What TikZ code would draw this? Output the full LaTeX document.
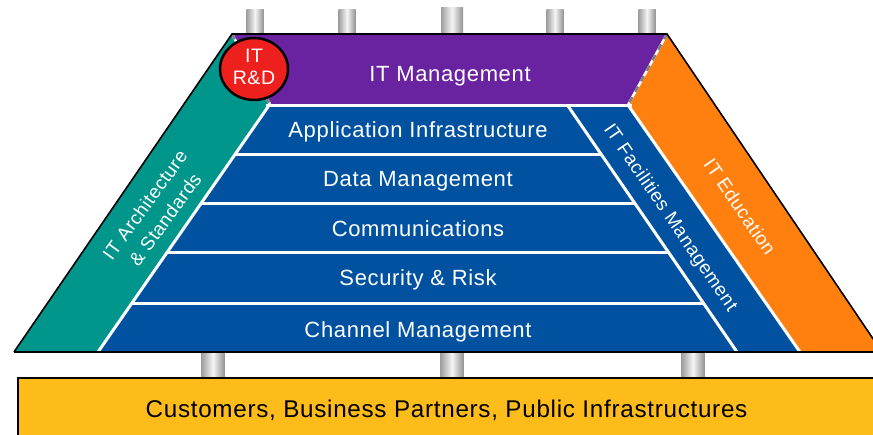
\documentclass[tikz,border=0pt]{standalone}
\usepackage{fontspec}
\usetikzlibrary{shapes.geometric}
\setmainfont{Liberation Sans}
\newfontfamily\lsans[LetterSpace=3]{Liberation Sans}
\definecolor{cblue}{RGB}{0,82,161}
\definecolor{cteal}{RGB}{0,150,140}
\definecolor{cpurple}{RGB}{106,35,160}
\definecolor{corange}{RGB}{255,127,15}
\definecolor{cred}{RGB}{237,32,30}
\definecolor{cyellow}{RGB}{253,188,25}
\begin{document}
\begin{tikzpicture}[x=1pt,y=-1pt,
  lbl/.style={text=white,font=\lsans\fontsize{22}{26}\selectfont,anchor=base,inner sep=0pt},
  rlbl/.style={text=white,font=\lsans\fontsize{18.8}{25}\selectfont,align=center,inner sep=0pt},
  rdlbl/.style={text=white,font=\lsans\fontsize{19.5}{22}\selectfont,anchor=base,inner sep=0pt},
  pillar/.style={left color=gray!75,right color=gray!85,middle color=gray!8},
  sep/.style={white,line width=3pt},
  bnd/.style={line width=2.5pt}]
\useasboundingbox (0,0) rectangle (873,435);
\clip (0,0) rectangle (873,435);
% top pillars
\foreach \x in {255,347,555,647} \fill[pillar] (\x-8.5,10) rectangle (\x+8.5,36);
\fill[pillar] (441,8) rectangle (463,36);
% bottom pillars
\foreach \x in {213,452,693} \fill[pillar] (\x-11.5,350) rectangle (\x+11.5,380);
% base box
\draw[fill=cyellow,line width=2pt] (18,378) rectangle (890,450);
\node[anchor=base,inner sep=0pt,font=\lsans\fontsize{24.2}{28}\selectfont] (cust) at (446.5,418) {Customers, Business Partners, Public Infrastructures};
% coloured regions
\fill[cblue] (270,104) -- (628,105) -- (800,352) -- (98,352) -- cycle;
\fill[cteal] (232,34) -- (270,104) -- (98,352) -- (14,352) -- cycle;
\fill[corange] (667,34) -- (628,105) -- (800,352) -- (882,352) -- cycle;
\fill[cpurple] (232,34) -- (667,34) -- (628,105) -- (270,104) -- cycle;
% white separators
\draw[sep] (270,104) -- (98,352);
\draw[sep] (628,105) -- (800,352);
\draw[sep] (266,105.5) -- (632,105.5);
\draw[sep] (568,106) -- (737,352);
\draw[sep] (235.1,154.5) -- (601.3,154.5);
\draw[sep] (201.3,203.5) -- (635,203.5);
\draw[sep] (167.1,253) -- (669,253);
\draw[sep] (132.2,303.5) -- (703.7,303.5);
% dashed boundaries of purple band
\draw[bnd,white] (667,34) -- (628,105);
\draw[bnd,gray,dash pattern=on 6pt off 6pt] (667,34) -- (628,105);
\draw[bnd,white] (232,34) -- (270,104);
\draw[bnd,gray,dash pattern=on 6pt off 6pt] (232,34) -- (270,104);
% outline
\draw[line width=1.6pt,line join=miter] (14,352) -- (232,34) -- (667,34) -- (882,352);
\draw[line width=1.6pt] (14,352) -- (890,352);
% labels
\node[lbl] (mgmt) at (450,81.5) {IT Management};
\node[lbl] (app) at (418,138) {Application Infrastructure};
\node[lbl] (data) at (418,186.5) {Data Management};
\node[lbl] (comm) at (418,237) {Communications};
\node[lbl] (sec) at (418,286) {Security \& Risk};
\node[lbl] (chan) at (418,337.3) {Channel Management};
\node[rlbl,rotate=54] (arch) at (155,212) {IT Architecture\\\& Standards};
\node[rlbl,rotate=-55.7] (fac) at (670,218) {IT Facilities Management};
\node[rlbl,rotate=-55.5] (edu) at (740,207) {IT Education};
% R&D circle
\node[ellipse,draw=black,line width=2.5pt,fill=cred,minimum width=68pt,minimum height=62pt,inner sep=0pt] (rd) at (254,69) {};
\node[rdlbl] (rdit) at (254,63) {IT};
\node[rdlbl] (rdrd) at (254,85) {R\&D};
\end{tikzpicture}
\end{document}
